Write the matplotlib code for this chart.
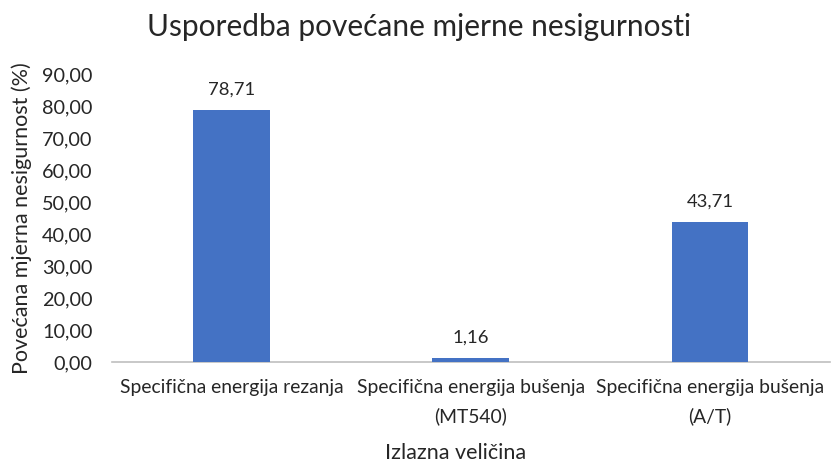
import matplotlib
matplotlib.use("Agg")
import matplotlib.pyplot as plt

plt.rcParams['font.family'] = ['Lato', 'DejaVu Sans']

kategorije = ["Specifična energija rezanja",
              "Specifična energija bušenja\n(MT540)",
              "Specifična energija bušenja\n(A/T)"]
vrijednosti = [78.71, 1.16, 43.71]
y_ticks = [0, 10, 20, 30, 40, 50, 60, 70, 80, 90]

txt = '#262626'

fig = plt.figure(figsize=(8.34, 4.72), dpi=100)
ax = fig.add_axes([0.134, 0.233, 0.861, 0.61])

x = range(len(kategorije))
bars = ax.bar(x, vrijednosti, width=0.32, color='#4472C4', zorder=3)

for b, v in zip(bars, vrijednosti):
    ax.annotate(f"{v:.2f}".replace('.', ','),
                (b.get_x() + b.get_width() / 2, v),
                xytext=(0, 9), textcoords='offset points',
                ha='center', va='bottom', fontsize=13.3, color=txt)

ax.set_xlim(-0.5, 2.5)
ax.set_ylim(0, 90)
ax.set_yticks(y_ticks)
ax.set_yticklabels([f"{t:.2f}".replace('.', ',') for t in y_ticks])
ax.set_xticks(list(x))
ax.set_xticklabels(kategorije, linespacing=1.75)

ax.tick_params(axis='y', length=0, pad=14, labelsize=14.3, labelcolor=txt)
ax.tick_params(axis='x', length=0, pad=12, labelsize=13.9, labelcolor=txt)

for s in ['top', 'right', 'left']:
    ax.spines[s].set_visible(False)
ax.spines['bottom'].set_color('#BFBFBF')
ax.spines['bottom'].set_linewidth(1.2)

ax.set_ylabel("Povećana mjerna nesigurnost (%)", fontsize=15.5, color=txt, labelpad=7)
fig.text(0.546, 0.019, "Izlazna veličina", ha='center', va='bottom', fontsize=15.5, color=txt)
fig.text(0.502, 0.943, "Usporedba povećane mjerne nesigurnosti", ha='center', va='center',
         fontsize=21.5, color=txt)

fig.savefig("out.png", dpi=100)
